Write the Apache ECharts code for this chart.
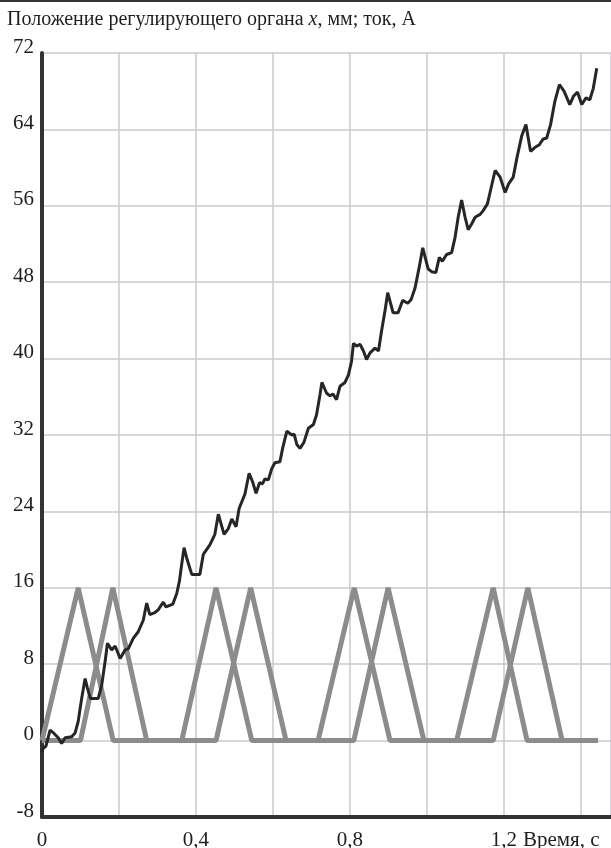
<!DOCTYPE html>
<html>
<head>
<meta charset="utf-8">
<script src="https://cdn.jsdelivr.net/npm/echarts@6/dist/echarts.min.js"></script>
<style>
  html, body { margin: 0; padding: 0; background: #fff; }
  #chart { width: 611px; height: 848px; }
</style>
</head>
<body>
<div id="chart"></div>
<script>
// Regulating member position x, mm (time in s, value in mm)
const positionTime = [
  0.000, 0.003, 0.010, 0.021, 0.030, 0.042, 0.051, 0.060, 0.077, 0.086,
  0.094, 0.103, 0.112, 0.118, 0.126, 0.146, 0.155, 0.164, 0.170, 0.181,
  0.190, 0.203, 0.216, 0.224, 0.237, 0.250, 0.263, 0.272, 0.280, 0.293,
  0.302, 0.315, 0.322, 0.340, 0.350, 0.357, 0.363, 0.369, 0.376, 0.389,
  0.410, 0.419, 0.436, 0.449, 0.458, 0.473, 0.484, 0.493, 0.504, 0.512,
  0.527, 0.538, 0.547, 0.556, 0.565, 0.573, 0.579, 0.588, 0.597, 0.605,
  0.618, 0.625, 0.636, 0.649, 0.655, 0.662, 0.670, 0.680, 0.692, 0.705,
  0.713, 0.722, 0.727, 0.739, 0.748, 0.756, 0.765, 0.774, 0.787, 0.796,
  0.804, 0.809, 0.817, 0.826, 0.835, 0.843, 0.852, 0.865, 0.874, 0.882,
  0.891, 0.898, 0.912, 0.925, 0.937, 0.950, 0.959, 0.969, 0.980, 0.989,
  1.003, 1.012, 1.023, 1.032, 1.040, 1.051, 1.064, 1.073, 1.081, 1.090,
  1.099, 1.107, 1.116, 1.125, 1.138, 1.146, 1.157, 1.165, 1.177, 1.190,
  1.203, 1.212, 1.224, 1.234, 1.246, 1.257, 1.269, 1.280, 1.292, 1.302,
  1.311, 1.321, 1.332, 1.344, 1.356, 1.371, 1.381, 1.391, 1.402, 1.413,
  1.423, 1.432, 1.441
];
const positionMm = [
  -1.2, -0.8, -0.6, 1.1, 0.8, 0.3, -0.3, 0.3, 0.4, 0.8,
  2.0, 4.4, 6.5, 5.5, 4.4, 4.4, 5.8, 8.3, 10.2, 9.5,
  9.9, 8.6, 9.5, 9.6, 10.7, 11.4, 12.6, 14.4, 13.2, 13.4,
  13.7, 14.5, 14.0, 14.3, 15.4, 16.7, 18.5, 20.2, 19.1, 17.4,
  17.4, 19.5, 20.5, 21.6, 23.7, 21.6, 22.2, 23.2, 22.4, 24.3,
  25.8, 28.0, 27.1, 25.9, 27.0, 26.9, 27.4, 27.3, 28.5, 29.1,
  29.2, 30.6, 32.4, 32.0, 32.1, 31.0, 30.6, 31.2, 32.7, 33.1,
  34.1, 36.2, 37.5, 36.4, 36.1, 36.3, 35.7, 37.1, 37.5, 38.3,
  39.7, 41.6, 41.3, 41.5, 40.8, 39.9, 40.6, 41.1, 40.8, 42.9,
  45.0, 46.9, 44.8, 44.8, 46.1, 45.8, 46.2, 47.4, 49.6, 51.6,
  49.4, 49.1, 49.0, 50.6, 50.2, 50.9, 51.1, 52.7, 54.8, 56.6,
  54.8, 53.5, 54.1, 54.8, 55.1, 55.5, 56.2, 57.6, 59.7, 59.0,
  57.4, 58.3, 59.0, 61.1, 63.3, 64.5, 61.7, 62.1, 62.4, 63.0,
  63.1, 64.5, 66.9, 68.7, 68.0, 66.6, 67.5, 67.9, 66.6, 67.3,
  67.1, 68.3, 70.4
];

// Phase currents, A (triangular pulses)
const currentATime = [0, 0.094, 0.185, 0.363, 0.452, 0.545, 0.717, 0.811, 0.904, 1.077, 1.172, 1.260, 1.444];
const currentAVal  = [0, 16,    0,     0,     16,    0,     0,     16,    0,     0,     16,    0,     0];
const currentBTime = [0, 0.100, 0.184, 0.272, 0.452, 0.542, 0.634, 0.810, 0.899, 0.992, 1.172, 1.262, 1.351, 1.444];
const currentBVal  = [0, 0,     16,    0,     0,     16,    0,     0,     16,    0,     0,     16,    0,     0];

// Axis settings
const timeTickLabels = { '0': '0', '0.4': '0,4', '0.8': '0,8', '1.2': '1,2' };
const yTicks = { min: -8, max: 72, step: 8 };
const xRange = { min: 0, max: 1.478, step: 0.2 };

const zip = (xs, ys) => xs.map((x, i) => [x, ys[i]]);

const serif = '"Liberation Serif", "DejaVu Serif", serif';
const chart = echarts.init(document.getElementById('chart'), null, { renderer: 'canvas' });

chart.setOption({
  backgroundColor: '#ffffff',
  animation: false,
  title: {
    text: 'Положение регулирующего органа {i|x}, мм; ток, А',
    left: 7,
    top: 10,
    padding: 0,
    textStyle: {
      fontFamily: serif,
      fontSize: 20,
      fontWeight: 'normal',
      color: '#1e1e1e',
      rich: {
        i: { fontFamily: serif, fontSize: 20, fontStyle: 'italic', color: '#1e1e1e' }
      }
    }
  },
  grid: {
    left: 42, top: 53, right: 0, bottom: 31,
    containLabel: false,
    outerBoundsMode: 'none'
  },
  xAxis: {
    type: 'value',
    min: xRange.min,
    max: xRange.max,
    interval: xRange.step,
    axisLine: { show: true, onZero: false, lineStyle: { color: '#333', width: 4 } },
    axisTick: { show: false },
    splitLine: { show: true, lineStyle: { color: '#c9c9cf', width: 1.5 } },
    axisLabel: {
      margin: 13,
      fontFamily: serif,
      fontSize: 21,
      color: '#1e1e1e',
      showMaxLabel: false,
      formatter: v => {
        const k = (Math.round(v * 10) / 10).toString();
        return timeTickLabels[k] !== undefined ? timeTickLabels[k] : '';
      }
    }
  },
  yAxis: {
    type: 'value',
    min: yTicks.min,
    max: yTicks.max,
    interval: yTicks.step,
    axisLine: { show: true, onZero: false, lineStyle: { color: '#333', width: 4 } },
    axisTick: { show: false },
    splitLine: { show: true, lineStyle: { color: '#c9c9cf', width: 1.5 } },
    axisLabel: {
      margin: 8,
      fontFamily: serif,
      fontSize: 21,
      color: '#1e1e1e',
      verticalAlign: 'bottom',
      lineHeight: 12
    }
  },
  series: [
    {
      name: 'Ток 1',
      type: 'line',
      data: zip(currentATime, currentAVal),
      showSymbol: false,
      lineStyle: { color: '#8c8c8c', width: 5 },
      z: 2
    },
    {
      name: 'Ток 2',
      type: 'line',
      data: zip(currentBTime, currentBVal),
      showSymbol: false,
      lineStyle: { color: '#8c8c8c', width: 5 },
      z: 2
    },
    {
      name: 'Положение x',
      type: 'line',
      data: zip(positionTime, positionMm),
      showSymbol: false,
      lineStyle: { color: '#262626', width: 3 },
      z: 3
    }
  ],
  graphic: [
    {
      type: 'rect',
      left: 0,
      top: 0,
      shape: { width: 611, height: 2 },
      style: { fill: '#333' }
    },
    {
      type: 'text',
      left: 523,
      top: 830,
      style: {
        text: 'Время, с',
        font: '21px "Liberation Serif", serif',
        fill: '#1e1e1e'
      }
    }
  ]
});
</script>
</body>
</html>
